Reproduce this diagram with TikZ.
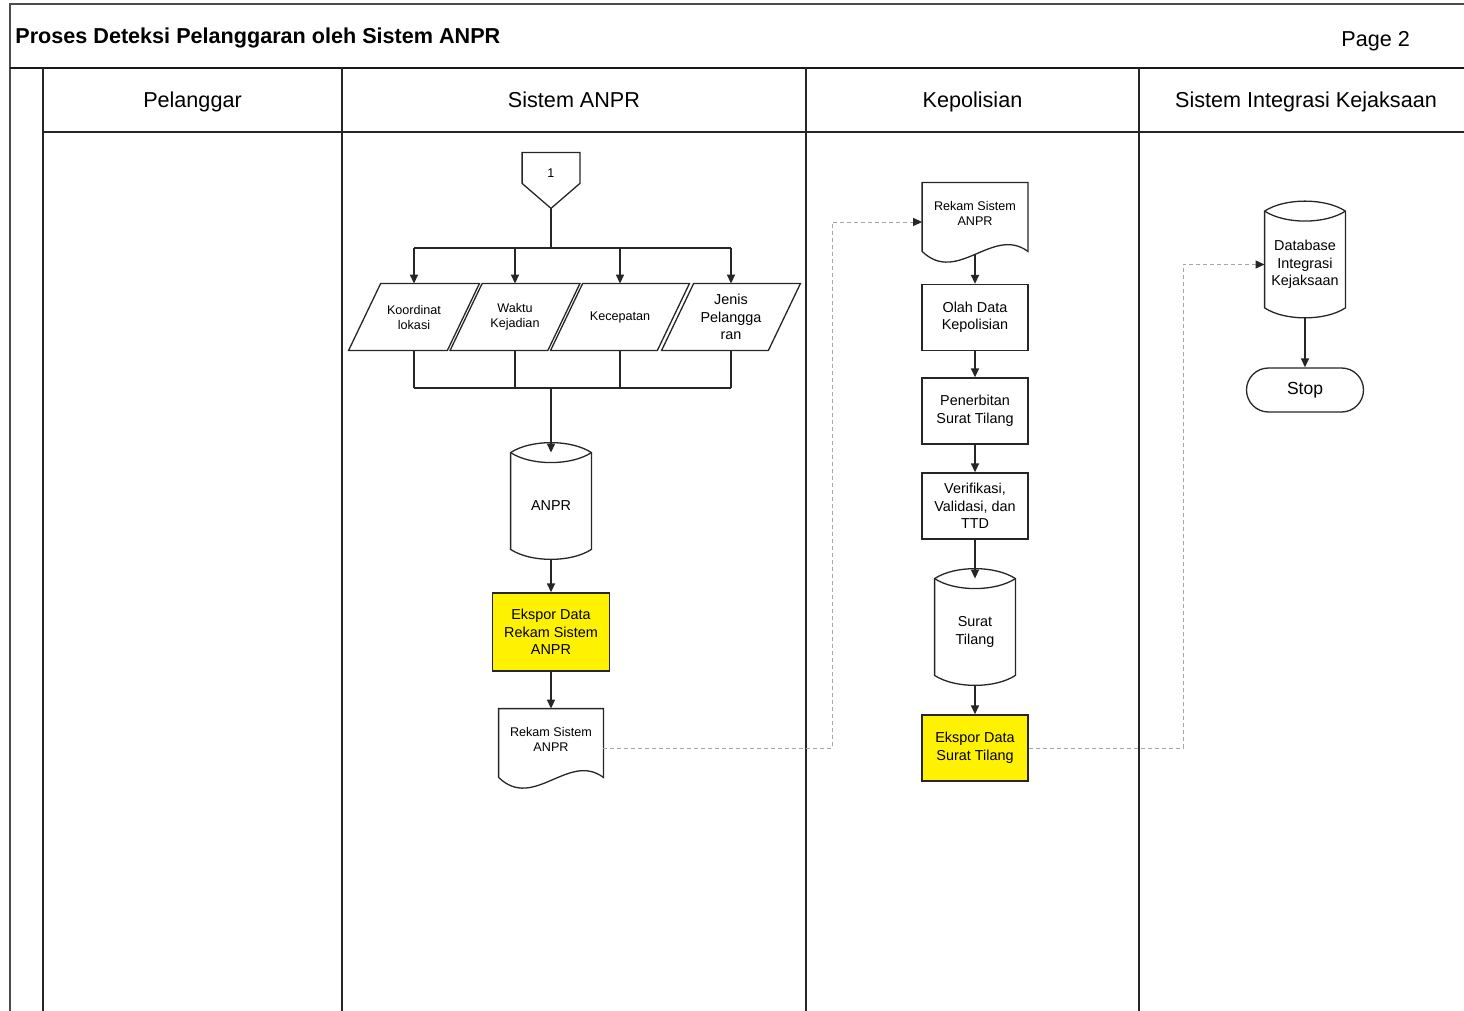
\documentclass[tikz,border=0pt]{standalone}
\usepackage{fontspec}
\setmainfont{Liberation Sans}
\usetikzlibrary{calc,arrows.meta}

\tikzset{
  lane/.style={line width=0.75pt, draw=black!85},
  shapeline/.style={line width=0.65pt, draw=black!85},
  txt/.style={font=\fontsize{7.2}{8.75}\selectfont, align=center, inner sep=0pt},
  smalltxt/.style={font=\fontsize{6.3}{7.5}\selectfont, align=center, inner sep=0pt},
  headtxt/.style={font=\fontsize{10.8}{13}\selectfont, inner sep=0pt},
  procbox/.style={txt, draw=black!85, line width=0.65pt, minimum width=53pt, minimum height=33pt},
  export/.style={procbox, fill=yellow},
  parabox/.style={smalltxt, minimum height=33pt},
  cylnode/.style={txt, minimum width=40pt, minimum height=43pt},
  docnode/.style={smalltxt, minimum width=52pt, minimum height=30pt},
  offnode/.style={smalltxt, minimum width=28.5pt, minimum height=20pt},
  terminal/.style={font=\fontsize{8.75}{10}\selectfont, inner sep=0pt, draw=black!85, line width=0.65pt,
    rounded corners=11pt, minimum width=58.5pt, minimum height=22pt},
  plain/.style={line width=0.7pt, draw=black!85},
  flow/.style={plain, -{Triangle[length=4.5pt,width=4pt]}},
  link/.style={draw=gray!70, line width=0.45pt, dash pattern=on 2pt off 1.5pt,
    -{Triangle[length=4.5pt,width=4pt,color=black!85]}},
}

% outlines drawn around the named text nodes
\newcommand\drawpara[1]{%
  \draw[shapeline] ($(#1.north west)+(16,0)$) -- ($(#1.north east)+(16,0)$)
    -- ($(#1.south east)+(-16,0)$) -- ($(#1.south west)+(-16,0)$) -- cycle;}
\newcommand\drawdoc[1]{%
  \draw[shapeline] (#1.north west) -- (#1.north east) -- ($(#1.south east)+(0,8)$)
    .. controls ($(#1.south west)!0.667!(#1.south east)+(0,-18)$)
    and ($(#1.south west)!0.333!(#1.south east)+(0,42)$) .. ($(#1.south west)+(0,8)$) -- cycle;}
\newcommand\drawcyl[1]{%
  \draw[shapeline] ($(#1.north west)+(0,-10)$)
    .. controls ($(#1.north west)!0.25!(#1.north east)+(0,-23.3)$)
    and ($(#1.north west)!0.75!(#1.north east)+(0,-23.3)$) .. ($(#1.north east)+(0,-10)$)
    -- (#1.south east)
    .. controls ($(#1.south west)!0.75!(#1.south east)+(0,13.3)$)
    and ($(#1.south west)!0.25!(#1.south east)+(0,13.3)$) .. (#1.south west) -- cycle;
  \draw[shapeline] ($(#1.north west)+(0,-10)$)
    .. controls ($(#1.north west)!0.25!(#1.north east)+(0,3.3)$)
    and ($(#1.north west)!0.75!(#1.north east)+(0,3.3)$) .. ($(#1.north east)+(0,-10)$);}
\newcommand\drawoffpage[1]{%
  \draw[shapeline] (#1.north west) -- (#1.north east) -- ($(#1.south east)+(0,-10)$)
    -- ($(#1.south)+(0,15)$) -- ($(#1.south west)+(0,-10)$) -- cycle;}

\begin{document}
\begin{tikzpicture}[x=0.5pt,y=-0.5pt]
\useasboundingbox (0,0) rectangle (1464,1011);

% page frame and swimlanes
\draw[black!70, line width=0.75pt] (10,1011) -- (10,4) -- (1464,4);
\draw[black!90, line width=1.3pt] (10,68) -- (1464,68);
\draw[lane] (43,68) -- (43,1011);
\draw[lane] (43,132) -- (1464,132);
\foreach \x in {342,806,1139} \draw[lane] (\x,68) -- (\x,1011);

\node[headtxt, font=\fontsize{10.8}{13}\selectfont\bfseries, anchor=base west] (title) at (15,44) {Proses Deteksi Pelanggaran oleh Sistem ANPR};
\node[headtxt, anchor=base west] (page) at (1341,47) {Page 2};
\node[headtxt, anchor=base] (h1) at (192.5,108) {Pelanggar};
\node[headtxt, anchor=base] (h2) at (574,108) {Sistem ANPR};
\node[headtxt, anchor=base] (h3) at (972.5,108) {Kepolisian};
\node[headtxt, anchor=base] (h4) at (1306,108) {Sistem Integrasi Kejaksaan};

% Sistem ANPR lane
\node[offnode] (off1) at (551,173) {1};
\drawoffpage{off1}
\node[parabox, minimum width=49pt] (p1) at (414,317) {Koordinat\\lokasi};
\node[parabox, minimum width=48.5pt] (p2) at (515,317) {Waktu\\Kejadian};
\node[parabox, minimum width=53pt] (p3) at (620,317) {Kecepatan};
\node[parabox, txt, minimum width=53pt] (p4) at (731,317) {Jenis\\Pelangga\\ran};
\foreach \p in {p1,p2,p3,p4} {\drawpara{\p}}
\coordinate (fork) at (551,248);
\coordinate (merge) at (551,388);
\draw[plain] ($(off1.south)+(0,15)$) -- (off1.south |- fork);
\draw[plain] (p1.north |- fork) -- (p4.north |- fork);
\foreach \p in {p1,p2,p3,p4} {\draw[flow] (\p.north |- fork) -- (\p.north);}
\foreach \p in {p1,p2,p3,p4} {\draw[plain] (\p.south) -- (\p.south |- merge);}
\draw[plain] (p1.south |- merge) -- (p4.south |- merge);

\node[cylnode] (anpr) at (551,506) {ANPR};
\drawcyl{anpr}
\node[export, minimum width=58.5pt, minimum height=39pt] (exp1) at (551,632) {Ekspor Data\\Rekam Sistem\\ANPR};
\node[docnode] (doc1) at (551,739) {Rekam Sistem\\ANPR};
\drawdoc{doc1}
\draw[flow] (merge) -- ($(anpr.north)+(0,-10)$);
\draw[flow] ($(anpr.south)+(0,10)$) -- (exp1.north);
\draw[flow] (exp1.south) -- (doc1.north);

% Kepolisian lane
\node[docnode, minimum width=52.5pt] (doc2) at (975,213) {Rekam Sistem\\ANPR};
\drawdoc{doc2}
\node[procbox] (olah) at (975,317.5) {Olah Data\\Kepolisian};
\node[procbox] (terbit) at (975,411) {Penerbitan\\Surat Tilang};
\node[procbox] (verif) at (975,506) {Verifikasi,\\Validasi, dan\\TTD};
\node[cylnode] (surat) at (975,632) {Surat\\Tilang};
\drawcyl{surat}
\node[export] (exp2) at (975,748) {Ekspor Data\\Surat Tilang};
\draw[flow] ($(doc2.south)+(0,11)$) -- (olah.north);
\draw[flow] (olah.south) -- (terbit.north);
\draw[flow] (terbit.south) -- (verif.north);
\draw[flow] (verif.south) -- ($(surat.north)+(0,-10)$);
\draw[flow] ($(surat.south)+(0,10)$) -- (exp2.north);

% Sistem Integrasi Kejaksaan lane
\node[cylnode] (db) at (1305,264.5) {Database\\Integrasi\\Kejaksaan};
\drawcyl{db}
\node[terminal] (stop) at (1305,390) {Stop};
\draw[flow] ($(db.south)+(0,10)$) -- (stop.north);

% cross-lane data transfers
\coordinate (bendA) at (832,0);
\coordinate (bendB) at (1183,0);
\coordinate (outA) at ($(doc1.east)+(0,9)$);
\coordinate (inA) at ($(doc2.west)+(0,9)$);
\draw[link] (outA) -- (outA -| bendA) -- (bendA |- inA) -- (inA);
\draw[link] (exp2.east) -- (exp2.east -| bendB) -- (bendB |- db.west) -- (db.west);
\end{tikzpicture}
\end{document}
